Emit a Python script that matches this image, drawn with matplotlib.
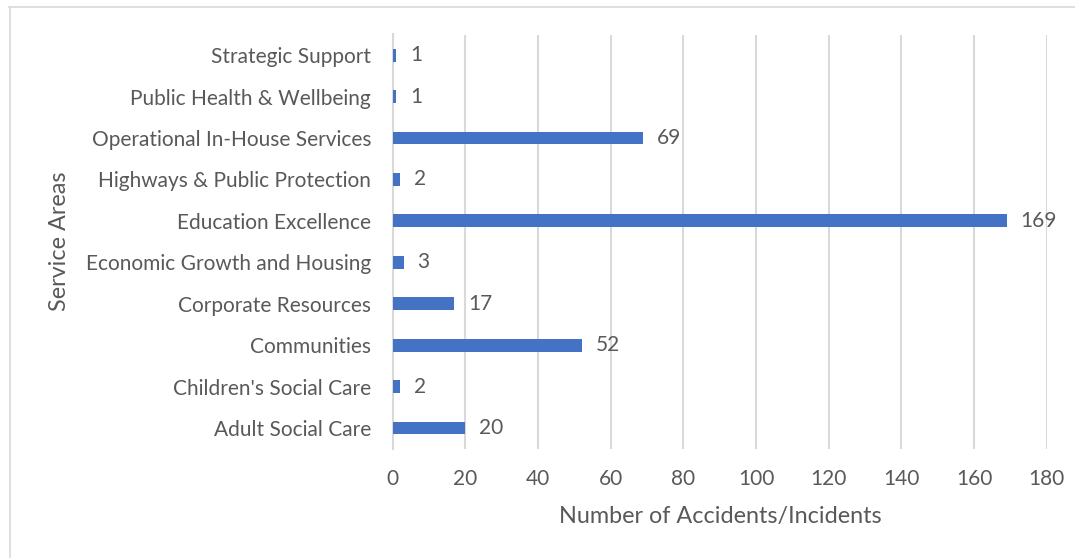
import matplotlib
matplotlib.use("Agg")
import matplotlib.pyplot as plt
from matplotlib.lines import Line2D

categories = [
    "Adult Social Care",
    "Children's Social Care",
    "Communities",
    "Corporate Resources",
    "Economic Growth and Housing",
    "Education Excellence",
    "Highways & Public Protection",
    "Operational In-House Services",
    "Public Health & Wellbeing",
    "Strategic Support",
]
counts = [20, 2, 52, 17, 3, 169, 2, 69, 1, 1]
x_ticks = [0, 20, 40, 60, 80, 100, 120, 140, 160, 180]

BAR = "#4472C4"
TEXT = "#595959"
GRID = "#D9D9D9"

plt.rcParams["font.family"] = ["Lato", "DejaVu Sans"]

W, H = 1075, 558
fig = plt.figure(figsize=(W / 100, H / 100), dpi=100)
fig.patch.set_facecolor("white")

ax = fig.add_axes([392.7 / W, 1 - 448.7 / H, (1046.7 - 392.7) / W, (448.7 - 34.5) / H])

y = list(range(len(categories)))
ax.barh(y, counts, height=0.31, color=BAR, zorder=3)

ax.set_xlim(0, 180)
ax.set_ylim(-0.5, len(categories) - 0.5)
ax.set_xticks(x_ticks)
ax.set_xticklabels([str(t) for t in x_ticks])
ax.set_yticks(y)
ax.set_yticklabels(categories)

ax.tick_params(axis="both", length=0, colors=TEXT, labelsize=15)
ax.tick_params(axis="x", pad=14.5)
ax.tick_params(axis="y", pad=15.5)

ax.xaxis.grid(True, color=GRID, linewidth=1.5, zorder=0)
ax.yaxis.grid(False)
for side in ("top", "right", "bottom"):
    ax.spines[side].set_visible(False)
ax.spines["left"].set_color(GRID)
ax.spines["left"].set_linewidth(1.5)
ax.spines["left"].set_zorder(1)

for yi, v in zip(y, counts):
    ax.annotate(str(v), xy=(v, yi), xytext=(10, 0), textcoords="offset points",
                ha="left", va="center", fontsize=15, color=TEXT)

fig.text(720 / W, 1 - 517 / H, "Number of Accidents/Incidents",
         ha="center", va="center", fontsize=16.8, color=TEXT)
fig.text(60 / W, 1 - 241.5 / H, "Service Areas", rotation=90,
         ha="center", va="center", fontsize=16.8, color=TEXT)

# thin frame along the top and left edges
fig.add_artist(Line2D([9 / W, 1.0], [1 - 6.5 / H, 1 - 6.5 / H],
                      transform=fig.transFigure, color=GRID, linewidth=1.2))
fig.add_artist(Line2D([9.5 / W, 9.5 / W], [0.0, 1 - 6.5 / H],
                      transform=fig.transFigure, color=GRID, linewidth=1.2))

fig.savefig("out.png", dpi=100, facecolor="white")
